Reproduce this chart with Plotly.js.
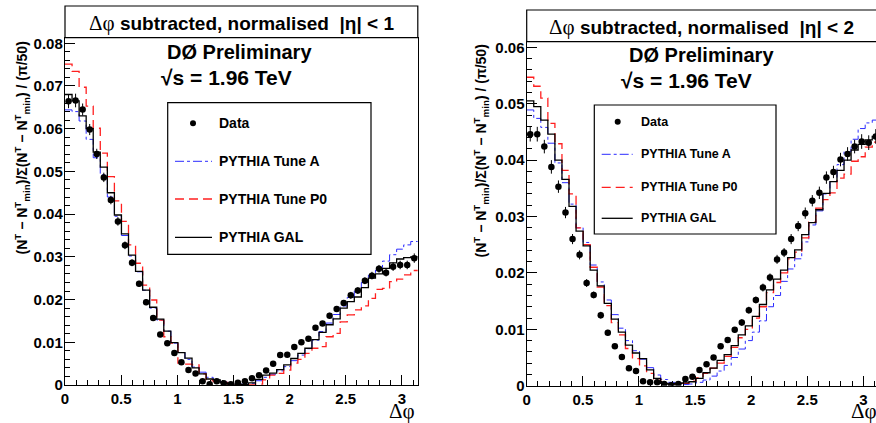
<!DOCTYPE html>
<html>
<head>
<meta charset="utf-8">
<script src="https://cdn.plot.ly/plotly-3.0.1.min.js"></script>
<style>
html,body{margin:0;padding:0;background:#fff;}
#wrap{width:876px;height:423px;overflow:hidden;}
#plot{width:884px;height:423px;}
</style>
</head>
<body>
<div id="wrap"><div id="plot"></div></div>
<script>
// ---- data (50 bins over 0..pi, bin width pi/50) ----
const nBins = 50;
const xMax = Math.PI;

// |eta| < 1
const dataL = [0.0664,0.0666,0.0645,0.0598,0.0541,0.0486,0.0433,0.0383,0.0327,0.0286,0.0237,0.0194,0.0157,0.0118,0.0098,0.0075,0.0053,0.0035,0.0027,0.0009,0.0002,0.0009,0.0004,0.0002,0.0005,0.0009,0.0016,0.0023,0.0034,0.0050,0.0070,0.0071,0.0089,0.0100,0.0108,0.0134,0.0144,0.0162,0.0178,0.0192,0.0210,0.0221,0.0244,0.0256,0.0272,0.0263,0.0277,0.0281,0.0281,0.0297];
const errL = [0.0016,0.0016,0.0014,0.0013,0.0012,0.0011,0.0010,0.0010,0.0009,0.0008,0.0007,0.0007,0.0006,0.0006,0.0005,0.0005,0.0004,0.0004,0.0004,0.0003,0.0003,0.0003,0.0003,0.0003,0.0003,0.0003,0.0003,0.0003,0.0004,0.0004,0.0004,0.0004,0.0005,0.0005,0.0005,0.0006,0.0006,0.0007,0.0007,0.0007,0.0008,0.0008,0.0008,0.0009,0.0009,0.0009,0.0010,0.0010,0.0010,0.0011];
const tuneAL = [0.0644,0.0640,0.0618,0.0575,0.0532,0.0492,0.0440,0.0395,0.0350,0.0302,0.0265,0.0222,0.0180,0.0152,0.0126,0.0098,0.0076,0.0060,0.0042,0.0030,0.0018,0.0012,0.0007,0.0003,0.0002,0.0002,0.0004,0.0010,0.0018,0.0025,0.0033,0.0043,0.0057,0.0070,0.0085,0.0105,0.0125,0.0145,0.0165,0.0185,0.0205,0.0222,0.0240,0.0257,0.0275,0.0290,0.0305,0.0318,0.0328,0.0336];
const p0L = [0.0751,0.0734,0.0697,0.0653,0.0601,0.0543,0.0488,0.0431,0.0383,0.0328,0.0285,0.0234,0.0199,0.0152,0.0113,0.0098,0.0051,0.0049,0.0047,0.0026,0.0012,0.0008,0.0006,0.0002,0.0001,0.0000,0.0000,0.0002,0.0012,0.0023,0.0027,0.0035,0.0051,0.0060,0.0074,0.0086,0.0090,0.0113,0.0121,0.0148,0.0164,0.0176,0.0185,0.0203,0.0224,0.0226,0.0242,0.0248,0.0258,0.0268];
const galL = [0.0680,0.0665,0.0630,0.0600,0.0545,0.0510,0.0450,0.0398,0.0354,0.0304,0.0266,0.0222,0.0182,0.0154,0.0126,0.0099,0.0076,0.0063,0.0040,0.0026,0.0014,0.0012,0.0005,0.0002,0.0002,0.0001,0.0005,0.0013,0.0023,0.0028,0.0036,0.0047,0.0062,0.0074,0.0086,0.0106,0.0123,0.0141,0.0155,0.0180,0.0195,0.0206,0.0228,0.0250,0.0260,0.0273,0.0286,0.0295,0.0298,0.0300];

// |eta| < 2
const dataR = [0.0446,0.0446,0.0424,0.0388,0.0353,0.0307,0.0260,0.0232,0.0182,0.0161,0.0125,0.0094,0.0070,0.0051,0.0031,0.0026,0.0008,0.0006,0.0006,0.0003,0.0001,0.0003,0.0012,0.0016,0.0028,0.0038,0.0050,0.0070,0.0081,0.0099,0.0112,0.0134,0.0152,0.0174,0.0192,0.0224,0.0236,0.0260,0.0283,0.0306,0.0328,0.0342,0.0369,0.0379,0.0401,0.0411,0.0424,0.0433,0.0431,0.0442];
const errR = [0.0013,0.0013,0.0012,0.0012,0.0011,0.0010,0.0009,0.0008,0.0007,0.0006,0.0006,0.0005,0.0004,0.0004,0.0003,0.0003,0.0003,0.0003,0.0002,0.0002,0.0002,0.0002,0.0003,0.0003,0.0003,0.0004,0.0004,0.0005,0.0005,0.0005,0.0006,0.0006,0.0006,0.0007,0.0007,0.0008,0.0008,0.0009,0.0009,0.0010,0.0010,0.0011,0.0011,0.0011,0.0012,0.0012,0.0012,0.0013,0.0013,0.0013];
const tuneAR = [0.0489,0.0474,0.0458,0.0430,0.0395,0.0360,0.0322,0.0280,0.0254,0.0214,0.0184,0.0152,0.0126,0.0102,0.0080,0.0062,0.0047,0.0032,0.0019,0.0011,0.0006,0.0003,0.0002,0.0003,0.0006,0.0010,0.0017,0.0026,0.0036,0.0050,0.0065,0.0080,0.0095,0.0115,0.0140,0.0160,0.0185,0.0207,0.0225,0.0255,0.0285,0.0310,0.0340,0.0362,0.0392,0.0415,0.0437,0.0456,0.0466,0.0471];
const p0R = [0.0547,0.0531,0.0510,0.0465,0.0429,0.0382,0.0340,0.0280,0.0250,0.0210,0.0175,0.0142,0.0112,0.0090,0.0066,0.0048,0.0035,0.0022,0.0012,0.0006,0.0003,0.0003,0.0004,0.0008,0.0014,0.0022,0.0031,0.0040,0.0052,0.0068,0.0085,0.0100,0.0120,0.0140,0.0165,0.0183,0.0200,0.0225,0.0237,0.0262,0.0290,0.0315,0.0330,0.0342,0.0368,0.0375,0.0398,0.0406,0.0423,0.0432];
const galR = [0.0505,0.0495,0.0471,0.0446,0.0400,0.0366,0.0318,0.0274,0.0248,0.0205,0.0177,0.0146,0.0118,0.0095,0.0072,0.0058,0.0048,0.0028,0.0013,0.0004,0.0003,0.0004,0.0005,0.0007,0.0013,0.0023,0.0031,0.0045,0.0055,0.0071,0.0090,0.0106,0.0123,0.0144,0.0170,0.0189,0.0205,0.0227,0.0241,0.0268,0.0289,0.0312,0.0341,0.0362,0.0382,0.0400,0.0418,0.0428,0.0436,0.0442];

const titles = ["subtracted, normalised  |η| < 1", "subtracted, normalised  |η| < 2"];
const legendLabels = ["Data", "PYTHIA Tune A", "PYTHIA Tune P0", "PYTHIA GAL"];

// ---- helpers ----
const W = 884, H = 423;
const px = x => x / W;
const py = y => 1 - y / H;
const bw = xMax / nBins;
const edges = Array.from({length: nBins + 1}, (_, i) => i * bw);
const centers = Array.from({length: nBins}, (_, i) => (i + 0.5) * bw);
const stepY = v => v.concat([v[v.length - 1]]);

const SANS = "Liberation Sans, Arial, sans-serif";
const SERIF = "Liberation Serif, DejaVu Serif, serif";
const BLUE = "#2b2bff", RED = "#ff2020";

function histTrace(vals, color, dash, width, xa, ya) {
  return {x: edges, y: stepY(vals), type: "scatter", mode: "lines",
    line: {shape: "hv", color: color, dash: dash, width: width},
    xaxis: xa, yaxis: ya, hoverinfo: "skip", showlegend: false};
}
function dataTrace(vals, errs, xa, ya) {
  return {x: centers, y: vals, type: "scatter", mode: "markers",
    marker: {symbol: "circle", size: 6.5, color: "black"},
    error_y: {type: "data", array: errs, visible: true, color: "black", thickness: 1, width: 0},
    xaxis: xa, yaxis: ya, showlegend: false};
}

const traces = [
  histTrace(tuneAL, BLUE, "dashdot", 1, "x", "y"),
  histTrace(p0L, RED, "9px,5px", 1.3, "x", "y"),
  histTrace(galL, "black", "solid", 1.3, "x", "y"),
  dataTrace(dataL, errL, "x", "y"),
  histTrace(tuneAR, BLUE, "dashdot", 1, "x2", "y2"),
  histTrace(p0R, RED, "9px,5px", 1.3, "x2", "y2"),
  histTrace(galR, "black", "solid", 1.3, "x2", "y2"),
  dataTrace(dataR, errR, "x2", "y2")
];

function xAxis(d0, d1, anchor) {
  return {domain: [px(d0), px(d1)], range: [0, xMax], anchor: anchor,
    tick0: 0, dtick: 0.5, ticks: "inside", ticklen: 10, tickwidth: 1, tickcolor: "black",
    minor: {ticks: "inside", ticklen: 5, dtick: 0.1, tickcolor: "black", tickwidth: 1, showgrid: false},
    showline: true, mirror: true, linecolor: "black", linewidth: 1.2,
    showgrid: false, zeroline: false,
    tickfont: {family: SANS, size: 15, weight: "bold", color: "black"}};
}
function yAxis(t, b, ymax, anchor) {
  return {domain: [py(b), py(t)], range: [0, ymax], anchor: anchor,
    tick0: 0, dtick: 0.01, ticks: "inside", ticklen: 10, tickwidth: 1, tickcolor: "black",
    minor: {ticks: "inside", ticklen: 5, dtick: 0.002, tickcolor: "black", tickwidth: 1, showgrid: false},
    showline: true, mirror: true, linecolor: "black", linewidth: 1.2,
    showgrid: false, zeroline: false, ticklabelstandoff: -2,
    tickfont: {family: SANS, size: 15, weight: "bold", color: "black"}};
}

const shapes = [];
const annotations = [];
function rect(x0, y0, x1, y1) {
  shapes.push({type: "rect", xref: "paper", yref: "paper", x0: px(x0), x1: px(x1), y0: py(y1), y1: py(y0),
    line: {color: "black", width: 1.2}, fillcolor: "white", layer: "above"});
}
function text(t, x, y, size, opts) {
  annotations.push(Object.assign({text: t, xref: "paper", yref: "paper", x: px(x), y: py(y),
    showarrow: false, font: {family: SANS, size: size, color: "black", weight: "bold"},
    xanchor: "center", yanchor: "middle"}, opts || {}));
}

// panel titles
rect(65, 6, 417.8, 37.7);
rect(526.7, 10, 879.3, 41.7);
text('<span style="font-family:Liberation Serif;font-weight:normal;font-size:21px">Δφ</span> ' + titles[0], 241.5, 23, 19);
text('<span style="font-family:Liberation Serif;font-weight:normal;font-size:21px">Δφ</span> ' + titles[1], 701, 27, 19);

// experiment labels
text("DØ Preliminary", 239.5, 52, 20);
text("√s = 1.96 TeV", 226.5, 77, 21);
text("DØ Preliminary", 701, 55, 20);
text("√s = 1.96 TeV", 686.8, 80, 21);

// axis titles
const ytitle = "(N<sup>T</sup> − N<sup>T</sup><sub>min</sub>)/Σ(N<sup>T</sup> − N<sup>T</sup><sub>min</sub>) / (π/50)";
text(ytitle, 22, 40, 14, {textangle: -90, yanchor: "top"});
text(ytitle, 481, 42, 14, {textangle: -90, yanchor: "top"});
text("Δφ", 417, 411, 21, {xanchor: "right", font: {family: SERIF, size: 21, color: "black"}});
text("Δφ", 879, 411, 21, {xanchor: "right", font: {family: SERIF, size: 21, color: "black"}});

// legends
function legend(bx0, by0, bx1, by1, lx0, lx1, mx, tx, ys, fs) {
  rect(bx0, by0, bx1, by1);
  shapes.push({type: "circle", xref: "paper", yref: "paper", x0: px(mx - 3), x1: px(mx + 3), y0: py(ys[0] + 3), y1: py(ys[0] - 3),
    fillcolor: "black", line: {color: "black", width: 0}, layer: "above"});
  const styles = [[BLUE, "dashdot", 1], [RED, "9px,5px", 1.3], ["black", "solid", 1.3]];
  for (let i = 0; i < 3; i++) {
    shapes.push({type: "line", xref: "paper", yref: "paper", x0: px(lx0), x1: px(lx1), y0: py(ys[i + 1]), y1: py(ys[i + 1]),
      line: {color: styles[i][0], dash: styles[i][1], width: styles[i][2]}, layer: "above"});
  }
  for (let i = 0; i < 4; i++) text(legendLabels[i], tx, ys[i], fs, {xanchor: "left"});
}
legend(167.7, 102.7, 371, 254.3, 175, 212, 193, 217, [123.3, 161.3, 199, 237.3], 14);
legend(594.3, 105, 776, 234, 601.7, 632.7, 617.7, 638.5, [121.7, 154.3, 187.3, 218.3], 12.5);

const layout = {
  width: W, height: H, margin: {l: 0, r: 0, t: 0, b: 0},
  paper_bgcolor: "white", plot_bgcolor: "white", showlegend: false,
  xaxis: xAxis(65, 417.8, "y"),
  yaxis: yAxis(37.7, 385, 0.0813, "x"),
  xaxis2: xAxis(526.7, 879.3, "y2"),
  yaxis2: yAxis(41.7, 385.7, 0.0610, "x2"),
  shapes: shapes, annotations: annotations
};

Plotly.newPlot("plot", traces, layout, {staticPlot: true, displayModeBar: false});
</script>
</body>
</html>
